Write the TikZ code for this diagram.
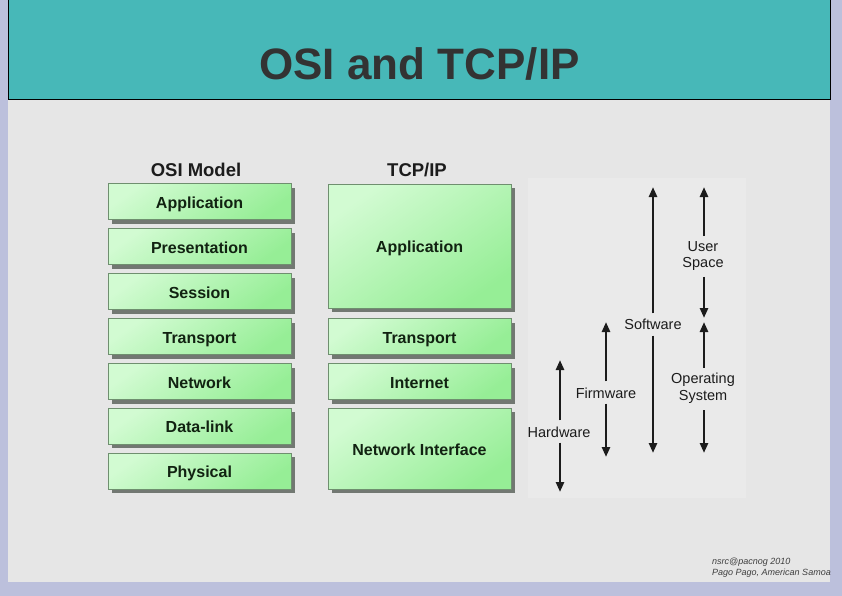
\documentclass[tikz,border=0pt]{standalone}
\usepackage{fontspec}
\setmainfont{Liberation Sans}
\usetikzlibrary{arrows.meta,shadows}
\definecolor{lav}{HTML}{BCC0DC}
\definecolor{slidebg}{HTML}{E6E6E6}
\definecolor{panelbg}{HTML}{EAEAEA}
\definecolor{teal}{HTML}{47B8B8}
\definecolor{gA}{HTML}{D2FBD2}
\definecolor{gB}{HTML}{96EE96}
\definecolor{boxline}{HTML}{6F8F6F}
\definecolor{shadowc}{HTML}{727872}
\definecolor{txt}{HTML}{112211}
\definecolor{ink}{HTML}{1C1C1C}
\tikzset{
  layer/.style={draw=boxline, line width=0.6pt, top color=gA, bottom color=gB, shading angle=35,
    minimum width=183pt, inner sep=0pt, text=txt, text height=13pt, text depth=0pt,
    font=\fontsize{16}{18}\selectfont\bfseries,
    drop shadow={shadow xshift=4pt, shadow yshift=-4pt, fill=shadowc, opacity=1, draw=none}},
  colhead/.style={font=\fontsize{18.5}{20}\selectfont\bfseries, text=ink, inner sep=0pt},
  arr/.style={draw=ink, line width=2.6pt, -{Triangle[length=10pt,width=8pt]}},
  alabel/.style={font=\fontsize{14.5}{16.5}\selectfont, text=ink, align=center, inner sep=0pt}
}
\begin{document}
\begin{tikzpicture}[x=1pt,y=-1pt]
\useasboundingbox (0,0) rectangle (842,596);
\fill[lav] (0,0) rectangle (842,596);
\fill[slidebg] (8,99) rectangle (830,582);
\fill[teal] (8,0) rectangle (830,99);
\draw[black, line width=0.8pt] (8,0) -- (8,99) -- (830,99) -- (830,0);
\node[anchor=base, text=ink!90, font=\fontsize{44}{48}\selectfont\bfseries, inner sep=0pt] (title) at (419.5,80) {OSI and TCP/IP};
\fill[panelbg] (528,178) rectangle (746,498);
% column heads
\node[colhead] (osihead) at (196,170) {OSI Model};
\node[colhead] (tcphead) at (417,170) {TCP/IP};
% OSI layers
\node[layer, minimum height=36pt] (osiapp)  at (199.5,201.5) {Application};
\node[layer, minimum height=36pt] (osipres) at (199.5,246.5) {Presentation};
\node[layer, minimum height=36pt] (osisess) at (199.5,291.5) {Session};
\node[layer, minimum height=36pt] (ositrans) at (199.5,336.5) {Transport};
\node[layer, minimum height=36pt] (osinet)  at (199.5,381.5) {Network};
\node[layer, minimum height=36pt] (osidl)   at (199.5,426) {Data-link};
\node[layer, minimum height=36pt] (osiphy)  at (199.5,471) {Physical};
% TCP/IP layers
\node[layer, minimum height=124pt] (tcpapp)  at (419.5,246) {Application};
\node[layer, minimum height=36pt] (tcptrans) at (419.5,336.5) {Transport};
\node[layer, minimum height=36pt] (tcpnet)  at (419.5,381.5) {Internet};
\node[layer, minimum height=81pt] (tcpni)   at (419.5,448.5) {Network Interface};
% right-hand arrows
\coordinate (hwtop) at (560,360); \coordinate (hwbot) at (560,492);
\coordinate (fwtop) at (606,322); \coordinate (fwbot) at (606,457);
\coordinate (swtop) at (653,187); \coordinate (swbot) at (653,453);
\coordinate (ustop) at (704,187); \coordinate (usbot) at (704,318);
\coordinate (ostop) at (704,322); \coordinate (osbot) at (704,453);
\node[alabel] (hw) at (559,432) {Hardware};
\node[alabel] (fw) at (606,393) {Firmware};
\node[alabel] (sw) at (653,324) {Software};
\node[alabel] (us) at (703,256) {User\\Space};
\node[alabel] (os) at (703,388) {Operating\\System};
\draw[arr, shorten <=6pt] (hw.north -| hwtop) -- (hwtop);
\draw[arr, shorten <=5pt] (hw.south -| hwbot) -- (hwbot);
\draw[arr, shorten <=6pt] (fw.north -| fwtop) -- (fwtop);
\draw[arr, shorten <=5pt] (fw.south -| fwbot) -- (fwbot);
\draw[arr, shorten <=5pt] (sw.north -| swtop) -- (swtop);
\draw[arr, shorten <=6pt] (sw.south -| swbot) -- (swbot);
\draw[arr, shorten <=5pt] (us.north -| ustop) -- (ustop);
\draw[arr, shorten <=6pt] (us.south -| usbot) -- (usbot);
\draw[arr, shorten <=5pt] (os.north -| ostop) -- (ostop);
\draw[arr, shorten <=7pt] (os.south -| osbot) -- (osbot);
% footer
\node[anchor=base west, inner sep=0pt, text=ink!85, font=\fontsize{9}{11}\selectfont\itshape, align=left] (foot1) at (712,564) {nsrc@pacnog 2010};
\node[anchor=base west, inner sep=0pt, text=ink!85, font=\fontsize{9}{11}\selectfont\itshape, align=left] (foot2) at (712,575) {Pago Pago, American Samoa};
\end{tikzpicture}
\end{document}
